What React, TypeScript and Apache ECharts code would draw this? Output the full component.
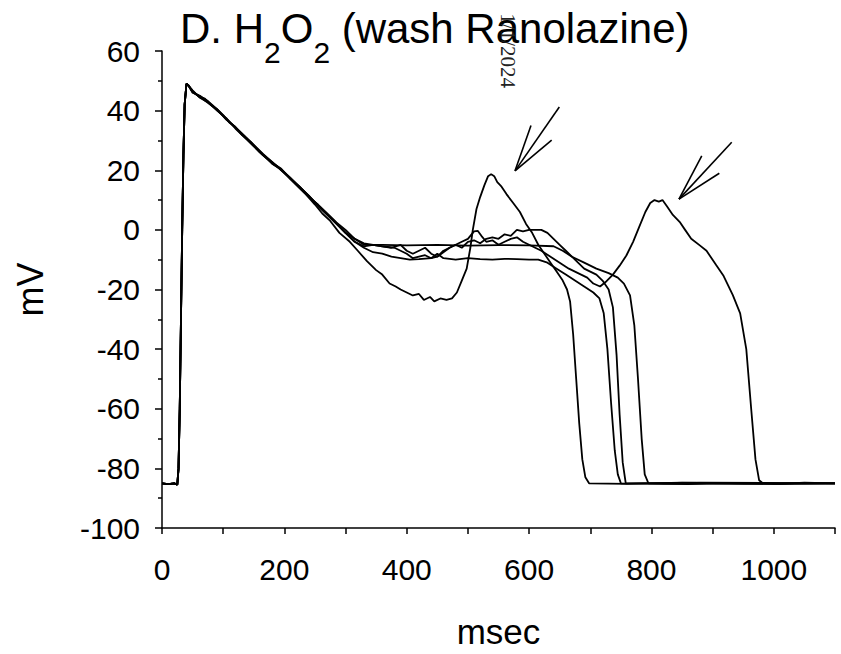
import React, { useEffect, useRef } from "react";
import * as echarts from "echarts";

type P = [number, number];

// shared upstroke (ms, mV)
const upstroke: P[] = [
  [0, -85], [10, -85.3], [20, -85], [25, -85.5], [27, -80], [29, -60], [31, -30],
  [33, 0], [35, 25], [37, 42], [40, 49], [43, 48.5],
];

// trace with early EAD (~540 ms)
const traceA: P[] = [
  [50, 46.5], [62, 44.5], [70, 44], [80, 42], [90, 40.5], [100, 38.5], [110, 36], [120, 34.5],
  [130, 32], [145, 29.5], [160, 26], [175, 23.5], [190, 21], [205, 18], [220, 15], [235, 12],
  [250, 8.5], [262, 5.5], [275, 3], [290, -1], [307, -4], [320, -7], [335, -10.5], [350, -13.5],
  [360, -15], [372, -18], [382, -19], [390, -20], [400, -21], [410, -22], [420, -21.5], [428, -23.5],
  [438, -22.5], [445, -24], [455, -23], [465, -23.5], [474, -23], [482, -21], [490, -17], [498, -13],
  [504, -6], [508, 0], [514, 7], [520, 11], [527, 15], [533, 18], [538, 18.7], [543, 18], [548, 16],
  [555, 14.5], [563, 12], [574, 9], [585, 6], [595, 2], [605, -1], [615, -5], [625, -8], [635, -11],
  [645, -14], [655, -17], [662, -20], [667, -24], [672, -35], [677, -50], [682, -65], [687, -77],
  [692, -83], [698, -85], [760, -85.2], [850, -84.8], [950, -85.1], [1100, -85],
];

// flat plateau near -5 mV
const traceB: P[] = [
  [50, 46], [62, 45], [75, 43], [90, 40], [105, 37.5], [120, 34], [135, 31], [150, 28], [165, 25],
  [180, 22.5], [195, 20.5], [210, 17], [225, 14], [240, 11], [255, 8.5], [270, 5.5], [285, 2.5],
  [300, 0], [315, -3], [330, -5], [345, -5], [360, -5], [400, -5.2], [450, -5], [500, -5.3],
  [550, -5.1], [600, -5.2], [640, -5.5], [655, -7], [670, -9], [690, -11], [710, -13], [730, -14.5],
  [745, -16], [755, -18], [765, -22], [772, -32], [778, -50], [784, -70], [789, -82], [795, -85],
  [860, -85.3], [900, -84.9], [1000, -85.2], [1100, -85],
];

// plateau near -10 mV
const traceC: P[] = [
  [50, 46.3], [62, 44.8], [75, 43.2], [90, 40.5], [105, 37], [120, 34.5], [135, 31.5], [150, 28.5],
  [165, 25.5], [180, 22.8], [195, 20], [210, 17.3], [225, 14.3], [240, 11.5], [255, 8], [270, 5],
  [285, 2], [300, -1], [315, -4], [330, -6], [345, -7.5], [360, -8], [375, -9], [390, -9.5],
  [405, -10], [420, -9.8], [440, -9.5], [450, -8], [460, -9.5], [480, -10], [500, -9.5], [520, -9.8],
  [540, -10], [560, -9.7], [580, -9.8], [600, -10], [615, -10], [630, -11], [645, -13], [660, -15],
  [675, -17], [690, -19], [705, -21], [715, -23], [722, -28], [728, -40], [734, -58], [740, -74],
  [745, -82], [750, -85], [820, -85.2], [1100, -85],
];

// plateau with bump near 0 mV at ~600 ms
const traceD: P[] = [
  [50, 46.8], [62, 44.3], [75, 42.8], [90, 40.2], [105, 37.2], [120, 34.2], [135, 31.2], [150, 28.2],
  [165, 25.2], [180, 22.2], [195, 20.2], [210, 17.2], [225, 14.5], [240, 11.2], [255, 8.3], [270, 5.3],
  [285, 2.3], [300, -1], [315, -3], [330, -4.5], [345, -5], [360, -5.5], [375, -6], [390, -5],
  [400, -7], [410, -8], [420, -7], [430, -6], [440, -8], [450, -9], [460, -7], [470, -6], [480, -5],
  [490, -6], [500, -4], [510, -3.5], [520, -4.5], [530, -3], [540, -2.5], [550, -3], [560, -1.5],
  [570, -2], [580, 0], [590, -0.5], [600, 0], [610, 0], [620, 0], [630, -1], [640, -3], [650, -5],
  [660, -7], [670, -9], [680, -11], [690, -13], [700, -14], [710, -15], [720, -17], [730, -20],
  [737, -26], [743, -42], [748, -62], [753, -78], [758, -85], [880, -84.8], [1100, -85],
];

// trace with late EAD (~808 ms)
const traceF: P[] = [
  [50, 46.2], [62, 44.6], [75, 42.6], [90, 40.3], [105, 37.3], [120, 34.3], [135, 31.3], [150, 28.3],
  [165, 25.3], [180, 22.3], [195, 20.3], [210, 17.4], [225, 14.4], [240, 11.4], [255, 8.2], [270, 5.2],
  [285, 2.2], [300, -1], [315, -4], [330, -5.5], [345, -5], [360, -5.5], [380, -6], [400, -8],
  [410, -9.5], [420, -9], [430, -8.5], [440, -9.5], [450, -9], [460, -7.5], [470, -6], [480, -5],
  [490, -4], [500, -3], [510, -0.5], [516, -0.3], [522, -2], [530, -4], [540, -3.5], [550, -5],
  [560, -4], [570, -3], [580, -2.5], [590, -4], [600, -5], [610, -6], [620, -7], [635, -9], [650, -11],
  [665, -13], [680, -14.5], [695, -16], [705, -18], [716, -19], [725, -17.5], [737, -15], [748, -12],
  [759, -8.6], [770, -4], [780, 1], [790, 6], [798, 9], [805, 10], [812, 9.5], [818, 10], [825, 8],
  [835, 5], [846, 2.7], [855, 0], [865, -3], [879, -5.2], [890, -7], [906, -11.9], [918, -15.5],
  [933, -21.9], [945, -28], [955, -40], [963, -60], [970, -77], [976, -84], [982, -85], [1010, -85.2],
  [1050, -84.8], [1100, -85],
];

const traces: P[][] = [traceA, traceB, traceC, traceD, traceF];

// annotation arrows in data space: tip, tail, head1, head2
const arrows: P[][] = [
  [[577, 19.8], [649.4, 41.2], [603.1, 35], [636.9, 30.1]],
  [[845, 10.3], [931.2, 29.4], [882.2, 24.8], [910.9, 19]],
];

const FONT = "'Liberation Sans', Arial, sans-serif";

export default function App() {
  const ref = useRef<HTMLDivElement>(null);
  useEffect(() => {
    if (!ref.current) return;
    const chart = echarts.init(ref.current, null, { renderer: "svg" });
    chart.setOption({
      animation: false,
      backgroundColor: "#fff",
      grid: { left: 162, right: 6, top: 51, bottom: 123, containLabel: false },
      xAxis: {
        type: "value",
        min: 0,
        max: 1100,
        interval: 100,
        name: "msec",
        nameLocation: "middle",
        nameGap: 86,
        nameTextStyle: { fontSize: 35, color: "#000", fontFamily: FONT },
        axisLine: { onZero: false, lineStyle: { color: "#000", width: 1.5 } },
        axisTick: { length: 6, lineStyle: { color: "#000", width: 1.5 } },
        splitLine: { show: false },
        axisLabel: {
          fontSize: 30,
          color: "#000",
          fontFamily: FONT,
          margin: 26,
          formatter: (v: number) => (v % 200 === 0 ? String(v) : ""),
        },
      },
      yAxis: {
        type: "value",
        min: -100,
        max: 60,
        interval: 20,
        name: "mV",
        nameLocation: "middle",
        nameGap: 114,
        nameTextStyle: { fontSize: 36, color: "#000", fontFamily: FONT },
        axisLine: { show: true, onZero: false, lineStyle: { color: "#000", width: 1.5 } },
        axisTick: { show: true, length: 7, lineStyle: { color: "#000", width: 1.5 } },
        minorTick: { show: true, splitNumber: 2, length: 4, lineStyle: { color: "#000", width: 1.5 } },
        splitLine: { show: false },
        axisLabel: { fontSize: 30, color: "#000", fontFamily: FONT, margin: 22 },
      },
      series: traces.map((t) => ({
        type: "line",
        data: upstroke.concat(t),
        showSymbol: false,
        symbol: "none",
        lineStyle: { color: "#000", width: 1.8 },
        z: 3,
      })),
    });

    const px = (p: P) => chart.convertToPixel({ gridIndex: 0 }, p) as number[];
    const arrowEls = arrows.flatMap((a) => {
      const tip = px(a[0]);
      return a.slice(1).map((q) => {
        const e = px(q);
        return {
          type: "line",
          shape: { x1: tip[0], y1: tip[1], x2: e[0], y2: e[1] },
          style: { stroke: "#000", lineWidth: 1.6 },
        };
      });
    });

    const mainStyle = { fontSize: 42, fontFamily: FONT, fill: "#000" };
    const subStyle = { fontSize: 30, fontFamily: FONT, fill: "#000" };
    const titleEls = [
      { type: "text", x: 180, y: 28, style: { ...mainStyle, text: "D. H", verticalAlign: "middle" } },
      { type: "text", x: 264, y: 52.5, style: { ...subStyle, text: "2", verticalAlign: "middle" } },
      { type: "text", x: 280.7, y: 28, style: { ...mainStyle, text: "O", verticalAlign: "middle" } },
      { type: "text", x: 313.4, y: 52.5, style: { ...subStyle, text: "2", verticalAlign: "middle" } },
      { type: "text", x: 330, y: 28, style: { ...mainStyle, text: " (wash Ranolazine)", verticalAlign: "middle" } },
    ];
    const watermark = {
      type: "text",
      x: 508,
      y: 88,
      rotation: -Math.PI / 2,
      z: 10,
      style: {
        text: "1/1/2024",
        fontSize: 21,
        fontFamily: "'Liberation Serif', 'Times New Roman', serif",
        fill: "#222",
        align: "right",
        verticalAlign: "middle",
      },
    };

    chart.setOption({ graphic: [...titleEls, watermark, ...arrowEls] });
    return () => chart.dispose();
  }, []);
  return (
    <div
      ref={ref}
      style={{ position: "absolute", left: 0, top: 0, width: 841, height: 654, background: "#fff" }}
    />
  );
}
